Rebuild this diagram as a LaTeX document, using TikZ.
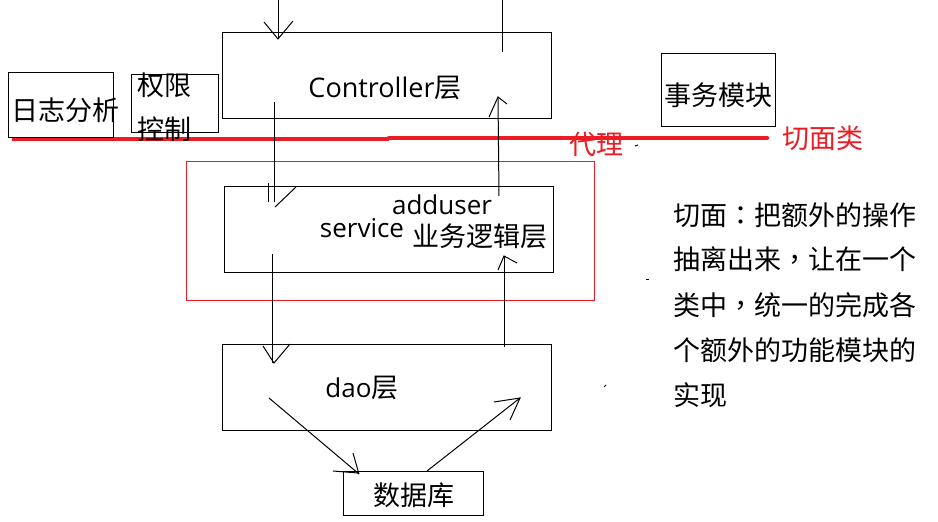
\documentclass[tikz,border=0pt]{standalone}
\usepackage{fontspec}
\newfontfamily\cjk{Noto Sans CJK SC}
\newfontfamily\cjkp{Noto Sans CJK TC}
\newfontfamily\lat{Open Sans}
\newcommand{\fwcolon}{{\cjkp ：}}
\newcommand{\fwcomma}{{\cjkp ，}}
\definecolor{pred}{HTML}{ED1C24}
\begin{document}
\begin{tikzpicture}[x=1pt,y=-1pt,
  box/.style={draw=black, line width=1pt, rectangle, inner sep=0pt},
  txt/.style={inner sep=0pt, font=\cjk\fontsize{27}{27}\selectfont},
  ltxt/.style={inner sep=0pt, font=\lat\fontsize{26}{26}\selectfont},
  redtxt/.style={txt, text=pred},
  thin/.style={draw=black, line width=1pt},
  redbar/.style={draw=pred, line width=4.5pt}]
\useasboundingbox (0,0) rectangle (938,522);
\fill[white] (0,0) rectangle (938,522);

% red cut line
\draw[redbar] (12,139) -- (389,139);
\draw[redbar, line cap=round] (389,138) -- (767,138);

% boxes
\node[box, minimum width=105pt, minimum height=65pt] (log) at (60.5,104.5) {};
\node[box, minimum width=87pt, minimum height=58pt] (perm) at (174.5,103) {};
\node[box, minimum width=329pt, minimum height=86pt] (ctrl) at (386.5,75) {};
\node[box, minimum width=114pt, minimum height=73pt] (tx) at (718,89.5) {};
\node[box, minimum width=329pt, minimum height=86pt] (svc) at (388.5,229) {};
\node[box, minimum width=329pt, minimum height=86pt] (dao) at (386.5,387) {};
\node[box, minimum width=140pt, minimum height=44pt] (db) at (413,493) {};
\node[draw=pred, line width=1pt, rectangle, inner sep=0pt, minimum width=408pt, minimum height=139pt] (proxy) at (390,230.5) {};

% texts
\node[txt] (tlog) at (66,110) {日志分析};
\node[txt, anchor=west] (tperm1) at (137,85) {权限};
\node[txt, anchor=west] (tperm2) at (137,129) {控制};
\node[inner sep=0pt] (tctrl) at (385,88) {{\lat\fontsize{27}{27}\selectfont Controller}{\cjk\fontsize{27}{27}\selectfont 层}};
\node[txt] (ttx) at (718,95) {事务模块};
\node[redtxt] (tproxy) at (596,144) {代理};
\node[redtxt] (taspect) at (823,138) {切面类};
\node[ltxt] (tadd) at (442,205) {adduser};
\node[ltxt] (tsvc) at (362,228) {service};
\node[txt] (tbiz) at (480,236) {业务逻辑层};
\node[inner sep=0pt] (tdao) at (362,388) {{\lat\fontsize{26}{26}\selectfont dao}{\cjk\fontsize{27}{27}\selectfont 层}};
\node[txt] (tdb) at (414,495) {数据库};

\node[txt, anchor=west] (n1) at (673,215) {切面\fwcolon 把额外的操作};
\node[txt, anchor=west] (n2) at (673,259) {抽离出来\fwcomma 让在一个};
\node[txt, anchor=west] (n3) at (673,305) {类中\fwcomma 统一的完成各};
\node[txt, anchor=west] (n4) at (673,350) {个额外的功能模块的};
\node[txt, anchor=west] (n5) at (673,395) {实现};

% sketched arrows
% into controller
\draw[thin] (278,0) -- (278,39);
\draw[thin] (264,22) -- (278,39) -- (293,21);
% controller -> service
\draw[thin] (274,102) -- (274,202);
\draw[thin] (268,183) -- (268,202);
\draw[thin] (275,207) -- (296,187);
% service -> dao
\draw[thin] (272,254) -- (272,363);
\draw[thin] (263,346) -- (274,363) -- (290,344);
% out of controller
\draw[thin] (502,0) -- (502,52);
% service -> controller
\draw[thin] (499,196) -- (498,97);
\draw[thin] (489,117) -- (498,97) -- (507,104);
% dao -> service
\draw[thin] (504,347) -- (504,256);
\draw[thin] (498,270) -- (504,256) -- (517,263);
% dao -> db
\draw[thin] (269,398) -- (359,474);
\draw[thin] (353,453) -- (359,474);
\draw[thin] (333,471) -- (358,473);
% db -> dao
\draw[thin] (427,471) -- (520,398);
\draw[thin] (494,402) -- (520,398) -- (510,420);

% stray specks
\draw[thin] (635,146) -- (638,145);
\draw[thin] (646,279) -- (649,279);
\draw[thin] (604,387) -- (606,385);
\end{tikzpicture}
\end{document}
